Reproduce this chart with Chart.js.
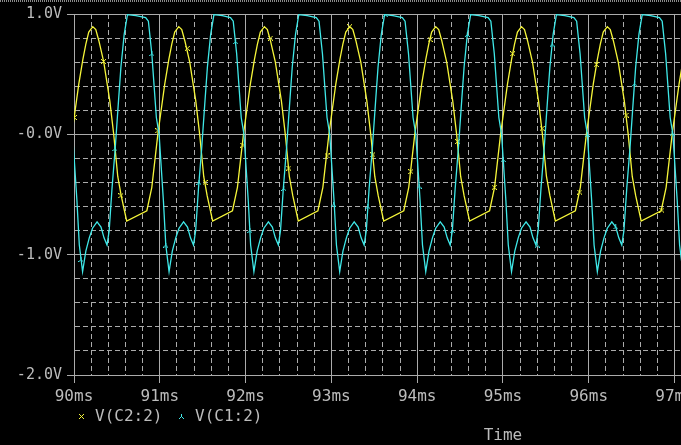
<!DOCTYPE html>
<html>
<head>
<meta charset="utf-8">
<title>V(C2:2) / V(C1:2)</title>
<script src="https://cdn.jsdelivr.net/npm/chart.js"></script>
<style>
  html, body { margin: 0; padding: 0; background: #000; overflow: hidden; }
  #wrap { position: relative; width: 681px; height: 445px; overflow: hidden; }
  #frame { position: absolute; left: 0; top: 0; width: 681px; height: 2px;
           background: repeating-linear-gradient(90deg, #8a8a8a 0 1px, #000 1px 2px); }
  canvas { position: absolute; left: 0; top: 0; }
</style>
</head>
<body>
<div id="wrap">
  <canvas id="scope" width="960" height="445"></canvas>
  <div id="frame"></div>
</div>
<script>
// V(C2:2) - yellow trace (time in ms, volts)
const c2Time = [
  89.847, 89.905, 89.975, 90.056, 90.103, 90.138, 90.172, 90.219, 90.254, 90.289, 90.347, 90.417, 90.463, 90.510, 90.550, 90.614,
  90.849, 90.907, 90.977, 91.058, 91.105, 91.140, 91.174, 91.221, 91.256, 91.291, 91.349, 91.419, 91.465, 91.512, 91.552, 91.616,
  91.847, 91.905, 91.975, 92.056, 92.103, 92.138, 92.172, 92.219, 92.254, 92.289, 92.347, 92.417, 92.463, 92.510, 92.550, 92.614,
  92.843, 92.901, 92.971, 93.052, 93.099, 93.134, 93.168, 93.215, 93.250, 93.285, 93.343, 93.413, 93.459, 93.506, 93.546, 93.610,
  93.844, 93.902, 93.972, 94.053, 94.100, 94.135, 94.169, 94.216, 94.251, 94.286, 94.344, 94.414, 94.460, 94.507, 94.547, 94.611,
  94.844, 94.902, 94.972, 95.053, 95.100, 95.135, 95.169, 95.216, 95.251, 95.286, 95.344, 95.414, 95.460, 95.507, 95.547, 95.611,
  95.844, 95.902, 95.972, 96.053, 96.100, 96.135, 96.169, 96.216, 96.251, 96.286, 96.344, 96.414, 96.460, 96.507, 96.547, 96.611,
  96.844, 96.902, 96.972, 97.053, 97.100, 97.135
];
const c2Volt = [
  -0.635, -0.44, 0, 0.42, 0.62, 0.75, 0.85, 0.895, 0.87, 0.78, 0.60, 0.28, 0, -0.35, -0.51, -0.72,
  -0.635, -0.44, 0, 0.42, 0.62, 0.75, 0.85, 0.895, 0.87, 0.78, 0.60, 0.28, 0, -0.35, -0.51, -0.72,
  -0.635, -0.44, 0, 0.42, 0.62, 0.75, 0.85, 0.895, 0.87, 0.78, 0.60, 0.28, 0, -0.35, -0.51, -0.72,
  -0.635, -0.44, 0, 0.42, 0.62, 0.75, 0.85, 0.895, 0.87, 0.78, 0.60, 0.28, 0, -0.35, -0.51, -0.72,
  -0.635, -0.44, 0, 0.42, 0.62, 0.75, 0.85, 0.895, 0.87, 0.78, 0.60, 0.28, 0, -0.35, -0.51, -0.72,
  -0.635, -0.44, 0, 0.42, 0.62, 0.75, 0.85, 0.895, 0.87, 0.78, 0.60, 0.28, 0, -0.35, -0.51, -0.72,
  -0.635, -0.44, 0, 0.42, 0.62, 0.75, 0.85, 0.895, 0.87, 0.78, 0.60, 0.28, 0, -0.35, -0.51, -0.72,
  -0.635, -0.44, 0, 0.42, 0.62, 0.75
];
const c2MarkTime = [90.003, 90.344, 90.547, 90.977, 91.321, 91.527, 91.969, 92.291, 92.503, 92.949, 93.213,
                    93.484, 93.926, 94.151, 94.472, 94.899, 95.112, 95.457, 95.895, 96.088, 96.437, 96.852];
const c2MarkVolt = [0.14, 0.605, -0.51, 0.03, 0.715, -0.40, -0.09, 0.80, -0.28, -0.18, 0.895,
                    -0.17, -0.31, 0.79, -0.06, -0.44, 0.67, 0.05, -0.48, 0.58, 0.16, -0.63];

// V(C1:2) - cyan trace
const c1Time = [
  89.700, 89.827, 89.859, 89.899, 89.952, 89.984, 90.034, 90.062,
  90.100, 90.138, 90.178, 90.216, 90.269, 90.315, 90.350, 90.385, 90.410, 90.443, 90.480, 90.519, 90.547, 90.585, 90.623, 90.721,
  90.835, 90.867, 90.907, 90.960, 90.992, 91.042, 91.070,
  91.108, 91.146, 91.186, 91.224, 91.277, 91.323, 91.358, 91.393, 91.418, 91.451, 91.488, 91.527, 91.555, 91.593, 91.631, 91.729,
  91.824, 91.856, 91.896, 91.949, 91.981, 92.031, 92.059,
  92.097, 92.135, 92.175, 92.213, 92.266, 92.312, 92.347, 92.382, 92.407, 92.440, 92.477, 92.516, 92.544, 92.582, 92.620, 92.718,
  92.824, 92.856, 92.896, 92.949, 92.981, 93.031, 93.059,
  93.097, 93.135, 93.175, 93.213, 93.266, 93.312, 93.347, 93.382, 93.407, 93.440, 93.477, 93.516, 93.544, 93.582, 93.620, 93.718,
  93.827, 93.859, 93.899, 93.952, 93.984, 94.034, 94.062,
  94.100, 94.138, 94.178, 94.216, 94.269, 94.315, 94.350, 94.385, 94.410, 94.443, 94.480, 94.519, 94.547, 94.585, 94.623, 94.721,
  94.827, 94.859, 94.899, 94.952, 94.984, 95.034, 95.062,
  95.100, 95.138, 95.178, 95.216, 95.269, 95.315, 95.350, 95.385, 95.410, 95.443, 95.480, 95.519, 95.547, 95.585, 95.623, 95.721,
  95.827, 95.859, 95.899, 95.952, 95.984, 96.034, 96.062,
  96.100, 96.138, 96.178, 96.216, 96.269, 96.315, 96.350, 96.385, 96.410, 96.443, 96.480, 96.519, 96.547, 96.585, 96.623, 96.721,
  96.824, 96.856, 96.896, 96.949, 96.981, 97.031, 97.059,
  97.097, 97.135
];
const c1Volt = [
  0.986, 0.97, 0.94, 0.67, 0.14, 0, -0.55, -0.92,
  -1.14, -0.97, -0.86, -0.78, -0.727, -0.77, -0.86, -0.92, -0.80, -0.45, -0.12, 0.28, 0.56, 0.83, 0.994, 0.986,
  0.97, 0.94, 0.67, 0.14, 0, -0.55, -0.92,
  -1.14, -0.97, -0.86, -0.78, -0.727, -0.77, -0.86, -0.92, -0.80, -0.45, -0.12, 0.28, 0.56, 0.83, 0.994, 0.986,
  0.97, 0.94, 0.67, 0.14, 0, -0.55, -0.92,
  -1.14, -0.97, -0.86, -0.78, -0.727, -0.77, -0.86, -0.92, -0.80, -0.45, -0.12, 0.28, 0.56, 0.83, 0.994, 0.986,
  0.97, 0.94, 0.67, 0.14, 0, -0.55, -0.92,
  -1.14, -0.97, -0.86, -0.78, -0.727, -0.77, -0.86, -0.92, -0.80, -0.45, -0.12, 0.28, 0.56, 0.83, 0.994, 0.986,
  0.97, 0.94, 0.67, 0.14, 0, -0.55, -0.92,
  -1.14, -0.97, -0.86, -0.78, -0.727, -0.77, -0.86, -0.92, -0.80, -0.45, -0.12, 0.28, 0.56, 0.83, 0.994, 0.986,
  0.97, 0.94, 0.67, 0.14, 0, -0.55, -0.92,
  -1.14, -0.97, -0.86, -0.78, -0.727, -0.77, -0.86, -0.92, -0.80, -0.45, -0.12, 0.28, 0.56, 0.83, 0.994, 0.986,
  0.97, 0.94, 0.67, 0.14, 0, -0.55, -0.92,
  -1.14, -0.97, -0.86, -0.78, -0.727, -0.77, -0.86, -0.92, -0.80, -0.45, -0.12, 0.28, 0.56, 0.83, 0.994, 0.986,
  0.97, 0.94, 0.67, 0.14, 0, -0.55, -0.92,
  -1.14, -0.97
];
const c1MarkTime = [90.081, 90.477, 90.907, 91.070, 91.457, 91.884, 92.050, 92.445, 93.026, 93.426, 93.628,
                    94.023, 94.410, 94.585, 95.003, 95.399, 95.574, 95.984, 96.314, 96.535, 96.972];
const c1MarkVolt = [-1.04, -0.12, 0.67, -0.92, -0.40, 0.77, -0.80, -0.45, -0.58, -0.60, 0.994,
                    -0.43, -0.80, 0.83, -0.21, -0.92, 0.75, 0, -0.77, 0.42, 0.01];

const seriesNames = ['V(C2:2)', 'V(C1:2)'];

const GRID = '#ababab';
const TEXT = '#bcbcbc';
const YELLOW = '#f6f63a';
const CYAN = '#3fe8e8';
const FONT = '"DejaVu Sans Mono", "Liberation Mono", monospace';

const isMajor = v => Math.abs(v - Math.round(v)) < 1e-6;
const pts = (ts, vs) => ts.map((t, i) => ({ x: t, y: vs[i] }));

// pixel-drawn trace markers, like the PSpice symbols
const MARK_X = [[0,0],[4,0],[1,1],[3,1],[2,2],[1,3],[3,3],[0,4],[4,4]];
const MARK_Y = [[2,0],[2,1],[2,2],[1,3],[3,3],[0,4],[4,4]];
function markerCanvas(cells, color) {
  const c = document.createElement('canvas');
  c.width = 5; c.height = 5;
  const g = c.getContext('2d');
  g.fillStyle = color;
  cells.forEach(p => g.fillRect(p[0], p[1], 1, 1));
  return c;
}
const c2Marker = markerCanvas(MARK_X, YELLOW);
const c1Marker = markerCanvas(MARK_Y, CYAN);

// legend sits between tick labels and "Time", so draw it here
const scopeLegend = {
  id: 'scopeLegend',
  afterDraw(chart) {
    const ctx = chart.ctx;
    const items = [
      { marker: c2Marker, mx: 81, tx: 95, text: seriesNames[0] },
      { marker: c1Marker, mx: 181, tx: 195, text: seriesNames[1] }
    ];
    ctx.save();
    ctx.font = '16px ' + FONT;
    ctx.fillStyle = TEXT;
    ctx.textBaseline = 'middle';
    ctx.textAlign = 'left';
    items.forEach(it => {
      ctx.drawImage(it.marker, it.mx - 2, 414);
      ctx.fillText(it.text, it.tx, 417);
    });
    ctx.restore();
  }
};

new Chart(document.getElementById('scope'), {
  type: 'line',
  data: {
    datasets: [
      { label: seriesNames[0], data: pts(c2Time, c2Volt), borderColor: YELLOW, borderWidth: 1.3,
        pointRadius: 0, tension: 0, order: 4 },
      { label: seriesNames[0] + ' markers', data: pts(c2MarkTime, c2MarkVolt), showLine: false,
        pointStyle: c2Marker, pointRadius: 3, order: 3 },
      { label: seriesNames[1], data: pts(c1Time, c1Volt), borderColor: CYAN, borderWidth: 1.3,
        pointRadius: 0, tension: 0, order: 2 },
      { label: seriesNames[1] + ' markers', data: pts(c1MarkTime, c1MarkVolt), showLine: false,
        pointStyle: c1Marker, pointRadius: 3, order: 1 }
    ]
  },
  options: {
    responsive: false,
    animation: false,
    events: [],
    layout: { padding: { top: 13, right: 26, bottom: 0, left: 0 } },
    plugins: { legend: { display: false }, tooltip: { enabled: false } },
    scales: {
      x: {
        type: 'linear', min: 90, max: 100,
        afterFit: s => { s.height = 70; },
        ticks: {
          stepSize: 0.2, maxTicksLimit: 100, autoSkip: false, maxRotation: 0, minRotation: 0,
          padding: 4, color: TEXT, font: { family: FONT, size: 16 },
          callback: v => isMajor(v) ? Math.round(v) + 'ms' : ''
        },
        grid: {
          color: GRID, lineWidth: 1, tickLength: 8,
          tickColor: c => (c.tick && isMajor(c.tick.value)) ? GRID : 'rgba(0,0,0,0)'
        },
        border: { color: GRID, width: 1, dash: c => (c.tick && !isMajor(c.tick.value)) ? [5, 3] : [] },
        title: { display: true, text: 'Time', color: TEXT, font: { family: FONT, size: 16 },
                 padding: { top: 0, bottom: 0 } }
      },
      y: {
        min: -2, max: 1,
        afterFit: s => { s.width = 74; },
        ticks: {
          stepSize: 0.2, maxTicksLimit: 100, autoSkip: false, padding: 5,
          color: TEXT, font: { family: FONT, size: 15 },
          callback: v => isMajor(v) ? (Math.round(v) === 0 ? '-0.0V' : v.toFixed(1) + 'V') : ''
        },
        grid: {
          color: GRID, lineWidth: 1, tickLength: 7,
          tickColor: c => (c.tick && isMajor(c.tick.value)) ? GRID : 'rgba(0,0,0,0)'
        },
        border: { color: GRID, width: 1, dash: c => (c.tick && !isMajor(c.tick.value)) ? [5, 3] : [] }
      }
    }
  },
  plugins: [scopeLegend]
});
</script>
</body>
</html>
